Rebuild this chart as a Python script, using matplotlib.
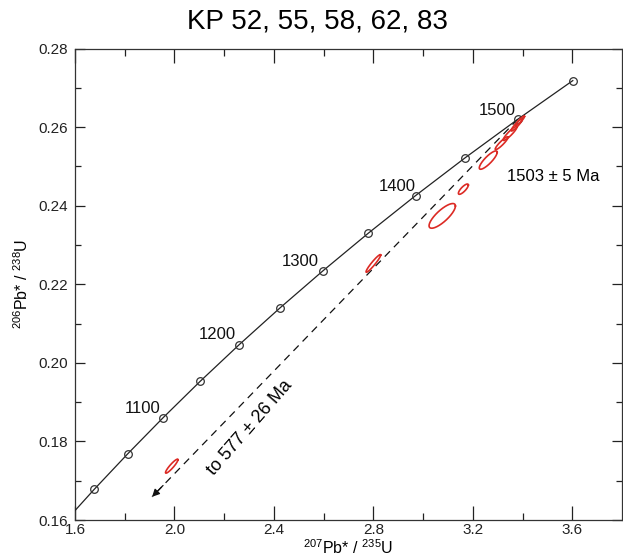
import numpy as np
import matplotlib
matplotlib.use('Agg')
import matplotlib.pyplot as plt

plt.rcParams['font.family'] = ['Liberation Sans', 'DejaVu Sans']
plt.rcParams['mathtext.fontset'] = 'custom'
plt.rcParams['mathtext.rm'] = 'Liberation Sans'
plt.rcParams['mathtext.it'] = 'Liberation Sans:italic'

# Concordia curve (age in Ma, 207Pb/235U, 206Pb/238U)
conc_age = [1000, 1050, 1100, 1150, 1200, 1250, 1300, 1350, 1400, 1450, 1500, 1550]
conc_x = [1.6774, 1.8126, 1.9546, 2.1037, 2.2603, 2.4249, 2.5978, 2.7794, 2.9701, 3.1705, 3.3810, 3.6021]
conc_y = [0.16781, 0.17688, 0.18605, 0.19531, 0.20462, 0.21400, 0.22345, 0.23298, 0.24258, 0.25225, 0.26200, 0.27183]
curve_start_x = 1.600
curve_start_y = 0.1624

age_labels = ['1100', '1200', '1300', '1400', '1500']
age_label_x = [1.873, 2.171, 2.505, 2.895, 3.297]
age_label_y = [0.1885, 0.2071, 0.2257, 0.2448, 0.2643]

# Data-point error ellipses: centre, half-extent in x, half-extent in y, error correlation
ell_x = [1.989, 2.800, 3.077, 3.162, 3.262, 3.316, 3.350, 3.376, 3.390]
ell_y = [0.1737, 0.2253, 0.2374, 0.2442, 0.2516, 0.2559, 0.2584, 0.2605, 0.2616]
ell_sx = [0.025, 0.0295, 0.053, 0.020, 0.036, 0.026, 0.028, 0.022, 0.018]
ell_sy = [0.00178, 0.00225, 0.00314, 0.00131, 0.00233, 0.00165, 0.0018, 0.0015, 0.0012]
ell_rho = [0.92, 0.95, 0.80, 0.80, 0.85, 0.92, 0.92, 0.92, 0.92]

# Discordia line (upper intercept -> arrow tip towards lower intercept)
disc_x = [3.381, 1.910]
disc_y = [0.2620, 0.1659]

xticks = [1.6, 2.0, 2.4, 2.8, 3.2, 3.6]
xminor = [1.8, 2.2, 2.6, 3.0, 3.4]
yticks = [0.16, 0.18, 0.20, 0.22, 0.24, 0.26, 0.28]
yminor = [0.17, 0.19, 0.21, 0.23, 0.25, 0.27]

fig = plt.figure(figsize=(6.23, 5.57), dpi=100)
ax = fig.add_axes([75 / 623, 37 / 557, 547 / 623, 471.5 / 557])

# concordia
ax.plot([curve_start_x] + conc_x, [curve_start_y] + conc_y, color='#222222', lw=0.9, zorder=3)
ax.plot(conc_x, conc_y, linestyle='none', marker='o', markersize=5.5,
        markerfacecolor='none', markeredgecolor='#333333', markeredgewidth=0.9, zorder=4)

for lab, lx, ly in zip(age_labels, age_label_x, age_label_y):
    ax.text(lx, ly, lab, fontsize=12, ha='center', va='center', color='#111111')

# discordia
ax.plot(disc_x, disc_y, color='#111111', lw=0.9, linestyle=(0, (6, 4.5)), zorder=2)
dx = disc_x[1] - disc_x[0]
dy = disc_y[1] - disc_y[0]
ax.annotate('', xy=(disc_x[1], disc_y[1]),
            xytext=(disc_x[1] - dx * 0.03, disc_y[1] - dy * 0.03),
            arrowprops=dict(arrowstyle='-|>', color='#111111', lw=0.9, mutation_scale=11,
                            shrinkA=0, shrinkB=0))

# ellipses
t = np.linspace(0, 2 * np.pi, 300)
for cx, cy, sx, sy, r in zip(ell_x, ell_y, ell_sx, ell_sy, ell_rho):
    ex = cx + sx * np.cos(t)
    ey = cy + sy * (r * np.cos(t) + np.sqrt(1 - r ** 2) * np.sin(t))
    ax.plot(ex, ey, color='#dc2a24', lw=1.2, zorder=5)

ax.text(3.523, 0.2473, '1503 \u00b1 5 Ma', fontsize=12, ha='center', va='center')
ax.text(2.305, 0.1835, 'to 577 \u00b1 26 Ma', fontsize=13, ha='center', va='center',
        rotation=49, rotation_mode='anchor')

ax.set_xlim(1.6, 3.8)
ax.set_ylim(0.16, 0.28)
ax.set_xticks(xticks)
ax.set_xticks(xminor, minor=True)
ax.set_yticks(yticks)
ax.set_yticks(yminor, minor=True)
ax.set_xticklabels(['%.1f' % v for v in xticks])
ax.set_yticklabels(['%.2f' % v for v in yticks])
ax.tick_params(axis='both', which='both', direction='in', top=True, right=True,
               labelsize=11, colors='#222222')
ax.tick_params(axis='x', which='major', length=10, width=0.9, pad=2)
ax.tick_params(axis='x', which='minor', length=5, width=0.9)
ax.tick_params(axis='y', which='major', length=7, width=0.9, pad=5)
ax.tick_params(axis='y', which='minor', length=4, width=0.9)
for s in ax.spines.values():
    s.set_linewidth(0.9)
    s.set_color('#333333')

fig.text(348 / 623, 3 / 557, '$^{207}$Pb* / $^{235}$U', fontsize=11.5,
         ha='center', va='baseline')
ax.set_ylabel('$^{206}$Pb* / $^{238}$U', fontsize=11.5, labelpad=5)
fig.text(0.51, 0.962, 'KP 52, 55, 58, 62, 83', fontsize=20, ha='center', va='center')

fig.savefig('out.png', dpi=100)
